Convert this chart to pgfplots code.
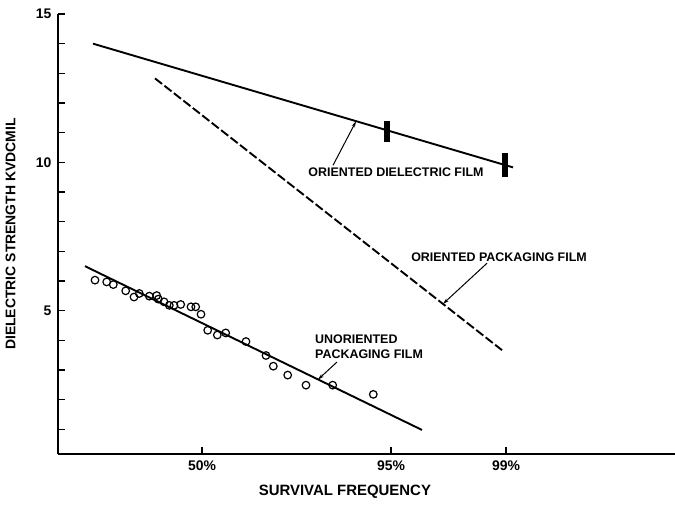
\documentclass[border=0pt]{standalone}
\usepackage{pgfplots}
\pgfplotsset{compat=1.18}
\usepackage{fontspec}
\setmainfont{Liberation Sans}
\usetikzlibrary{arrows.meta}
\begin{document}
\begin{tikzpicture}
\begin{axis}[
  scale only axis, width=617bp, height=440bp,
  xmin=58, xmax=675, ymin=0.17, ymax=15,
  axis x line=bottom, axis y line=left,
  axis line style={-, line width=1.4bp},
  xtick={202,391,506}, xticklabels={50\%,95\%,99\%},
  ytick={5,10,15}, minor ytick={1,2,3,4,6,7,8,9,11,12,13,14},
  tick align=inside, major tick length=7bp, minor tick length=7bp,
  every tick/.style={line width=1.3bp, black},
  /pgf/number format/assume math mode=true,
  tick label style={font=\bfseries\fontsize{14}{16}\selectfont},
  yticklabel style={xshift=-3bp},
  xticklabel style={yshift=-3bp},
  xlabel={SURVIVAL FREQUENCY},
  ylabel={DIELECTRIC STRENGTH KVDCMIL},
  xlabel style={font=\bfseries\fontsize{15}{17}\selectfont, at={(axis description cs:0.465,-0.086)}, anchor=center},
  ylabel style={font=\bfseries\fontsize{14}{16}\selectfont, at={(axis description cs:-0.077,0.5)}, anchor=center},
  clip=false,
]
% oriented dielectric film
\addplot[black, line width=1.9bp] coordinates {(93,14.0) (513,9.83)};
\addplot[black, line width=5.5bp] coordinates {(387,10.67) (387,11.41)};
\addplot[black, line width=5.5bp] coordinates {(505,9.49) (505,10.30)};
% oriented packaging film
\addplot[black, line width=1.9bp, dash pattern=on 9bp off 3bp] coordinates {(155,12.83) (502,3.67)};
% unoriented packaging film
\addplot[black, line width=1.9bp] coordinates {(85,6.50) (422,0.98)};
\addplot[only marks, mark=o, mark size=3.8bp, mark options={line width=1.2bp, black}] coordinates {
(95,6.03) (106.7,5.97) (113.3,5.88) (125.7,5.67) (134,5.46) (139.3,5.58)
(149.3,5.49) (156.7,5.51) (158.3,5.39) (164,5.30) (169.3,5.18) (174,5.18)
(180.7,5.21) (191,5.13) (195.7,5.13) (201,4.88) (207.7,4.34) (217.3,4.18)
(225.7,4.25) (246,3.96) (266,3.49) (273.3,3.13) (287.7,2.83) (306,2.49)
(332.7,2.49) (373.3,2.18)};
% annotations
\node[font=\bfseries\fontsize{12.5}{14}\selectfont, anchor=center] at (axis cs:396,9.66) {ORIENTED DIELECTRIC FILM};
\draw[-{Stealth[length=6bp,width=3.5bp]}, line width=1bp] (axis cs:333,9.90) -- (axis cs:356,11.38);
\node[font=\bfseries\fontsize{12.5}{14}\selectfont, anchor=center] at (axis cs:499,6.80) {ORIENTED PACKAGING FILM};
\draw[-{Stealth[length=6bp,width=3.5bp]}, line width=1bp] (axis cs:487,6.60) -- (axis cs:443,5.23);
\node[font=\bfseries\fontsize{12.5}{14.5}\selectfont, anchor=west, align=left, inner sep=0pt] at (axis cs:315,3.78) {UNORIENTED\\PACKAGING FILM};
\draw[-{Stealth[length=6bp,width=3.5bp]}, line width=1bp] (axis cs:337,3.27) -- (axis cs:318,2.68);
\end{axis}
\pgfresetboundingbox
\path[use as bounding box] ([xshift=-58bp,yshift=-52bp]current axis.south west) rectangle ([yshift=14bp]current axis.north east);
\end{tikzpicture}
\end{document}
